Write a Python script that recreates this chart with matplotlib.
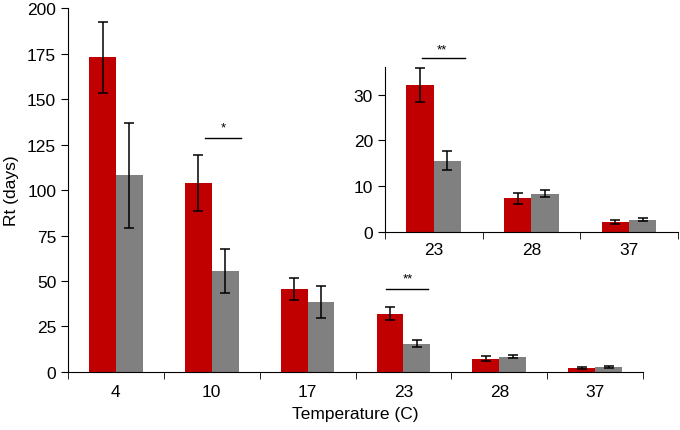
import numpy as np
import matplotlib
matplotlib.use("Agg")
import matplotlib.pyplot as plt

plt.rcParams['font.family'] = ['Liberation Sans', 'DejaVu Sans']

# data
temps = ['4', '10', '17', '23', '28', '37']
red_vals = [173, 104, 45.6, 32.1, 7.4, 2.1]
red_err = [19.5, 15.5, 6.3, 3.8, 1.2, 0.45]
gray_vals = [108, 55.5, 38.5, 15.6, 8.4, 2.7]
gray_err = [29, 12, 8.7, 2.0, 0.7, 0.4]

red = '#C00000'
gray = '#808080'
w = 0.28
fs = 12.5

fig = plt.figure(figsize=(6.8, 4.31), dpi=100)
ax = fig.add_axes([0.1, 0.1346, 0.8456, 0.8444])

x = np.arange(len(temps))
ekw = dict(ecolor='black', elinewidth=1.1, capsize=3.5, capthick=1.1)
ax.bar(x - w/2, red_vals, w, color=red, yerr=red_err, error_kw=ekw)
ax.bar(x + w/2, gray_vals, w, color=gray, yerr=gray_err, error_kw=ekw)

ax.set_xlim(-0.5, len(temps) - 0.5)
ax.set_ylim(0, 200)
ax.set_yticks(range(0, 201, 25))
ax.set_xticks(x)
ax.set_xticklabels(temps)
ax.set_xticks(np.arange(-0.5, len(temps)), minor=True)
ax.tick_params(axis='x', which='major', length=0, pad=9, labelsize=fs)
ax.tick_params(axis='x', which='minor', length=5, direction='out')
ax.tick_params(axis='y', length=5, direction='out', labelsize=fs)
ax.spines['top'].set_visible(False)
ax.spines['right'].set_visible(False)
ax.set_xlabel('Temperature (C)', fontsize=fs, labelpad=5)
ax.set_ylabel('Rt (days)', fontsize=fs, labelpad=6)

# significance marks
ax.plot([0.93, 1.3], [128.6, 128.6], color='black', lw=1)
ax.text(1.12, 131, '*', ha='center', va='bottom', fontsize=9.5)
ax.plot([2.82, 3.26], [45.6, 45.6], color='black', lw=1)
ax.text(3.05, 48, '**', ha='center', va='bottom', fontsize=9.5)

# inset for the last three temperatures
ins = fig.add_axes([0.566, 0.4594, 0.4308, 0.3826])
xi = np.arange(3)
ins.bar(xi - w/2, red_vals[3:], w, color=red, yerr=red_err[3:], error_kw=ekw)
ins.bar(xi + w/2, gray_vals[3:], w, color=gray, yerr=gray_err[3:], error_kw=ekw)
ins.set_xlim(-0.5, 2.5)
ins.set_ylim(0, 36)
ins.set_yticks([0, 10, 20, 30])
ins.set_xticks(xi)
ins.set_xticklabels(temps[3:])
ins.set_xticks(np.arange(-0.5, 3), minor=True)
ins.tick_params(axis='x', which='major', length=0, pad=7, labelsize=fs)
ins.tick_params(axis='x', which='minor', length=5, direction='out')
ins.tick_params(axis='y', length=5, direction='out', labelsize=fs)
ins.spines['top'].set_visible(False)
ins.spines['right'].set_visible(False)
ins.patch.set_alpha(0)
ins.plot([-0.12, 0.32], [37.9, 37.9], color='black', lw=1, clip_on=False)
ins.text(0.08, 38.6, '**', ha='center', va='bottom', fontsize=9.5, clip_on=False)

fig.savefig('out.png', dpi=100)
